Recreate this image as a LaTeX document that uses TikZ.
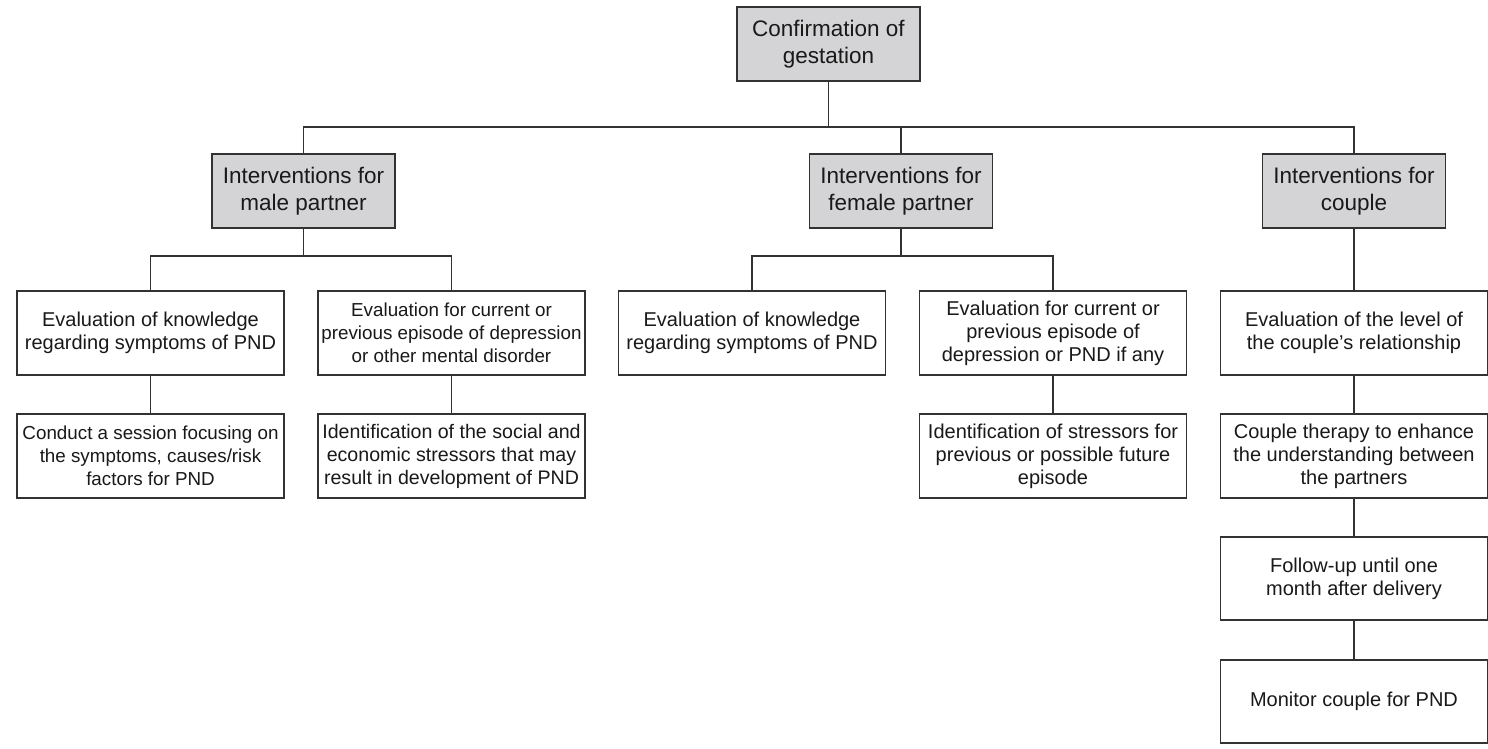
\documentclass[tikz,border=0pt]{standalone}
\usepackage{fontspec}
\setmainfont{Liberation Sans}
\definecolor{boxgray}{RGB}{212,212,214}
\definecolor{linegray}{RGB}{50,50,50}
\tikzset{
  head/.style={draw=linegray, line width=1.2pt, fill=boxgray, minimum width=183pt, minimum height=74pt, inner sep=0pt, align=center, font=\fontsize{22.5}{27}\selectfont, text=black!90},
  item/.style={draw=linegray, line width=1.2pt, fill=white, minimum width=267pt, minimum height=84pt, inner sep=0pt, align=center, font=\fontsize{20}{23}\selectfont, text=black!90},
  tight/.style={font=\fontsize{18.8}{23}\selectfont},
  link/.style={draw=linegray, line width=1.2pt}
}
\begin{document}
\begin{tikzpicture}[x=1pt, y=-1pt]
\useasboundingbox (0,0) rectangle (1488,749);
% level 0
\node[head] (top) at (828.5,44) {Confirmation of\\gestation};
% level 1
\node[head] (male) at (303.5,191) {Interventions for\\male partner};
\node[head] (female) at (901,191) {Interventions for\\female partner};
\node[head] (couple) at (1354,191) {Interventions for\\couple};
% level 2
\node[item] (m1) at (150.5,333) {Evaluation of knowledge\\regarding symptoms of PND};
\node[item, tight] (m2) at (451.5,333) {Evaluation for current or\\previous episode of depression\\or other mental disorder};
\node[item] (f1) at (752,333) {Evaluation of knowledge\\regarding symptoms of PND};
\node[item] (f2) at (1053,333) {Evaluation for current or\\previous episode of\\depression or PND if any};
\node[item] (c1) at (1354,333) {Evaluation of the level of\\the couple’s relationship};
% level 3
\node[item, tight] (m3) at (150.5,456) {Conduct a session focusing on\\the symptoms, causes/risk\\factors for PND};
\node[item, font=\fontsize{19.6}{23}\selectfont] (m4) at (451.5,456) {Identification of the social and\\economic stressors that may\\result in development of PND};
\node[item] (f3) at (1053,456) {Identification of stressors for\\previous or possible future\\episode};
\node[item] (c2) at (1354,456) {Couple therapy to enhance\\the understanding between\\the partners};
% couple chain
\node[item, minimum height=83pt] (c3) at (1354,578.5) {Follow-up until one\\month after delivery};
\node[item, minimum height=83pt] (c4) at (1354,701.5) {Monitor couple for PND};
% junctions
\coordinate (j0) at (828.5,127);
\coordinate (j1) at (303.5,256);
\coordinate (j2) at (901,256);
% connectors
\draw[link] (top.south) -- (j0);
\draw[link] (male.north) |- (j0) -| (couple.north);
\draw[link] (female.north) -- (female.north |- j0);
\draw[link] (male.south) -- (j1);
\draw[link] (m1.north) |- (j1) -| (m2.north);
\draw[link] (female.south) -- (j2);
\draw[link] (f1.north) |- (j2) -| (f2.north);
\draw[link] (couple.south) -- (c1.north);
\draw[link] (m1.south) -- (m3.north);
\draw[link] (m2.south) -- (m4.north);
\draw[link] (f2.south) -- (f3.north);
\draw[link] (c1.south) -- (c2.north);
\draw[link] (c2.south) -- (c3.north);
\draw[link] (c3.south) -- (c4.north);
\end{tikzpicture}
\end{document}
